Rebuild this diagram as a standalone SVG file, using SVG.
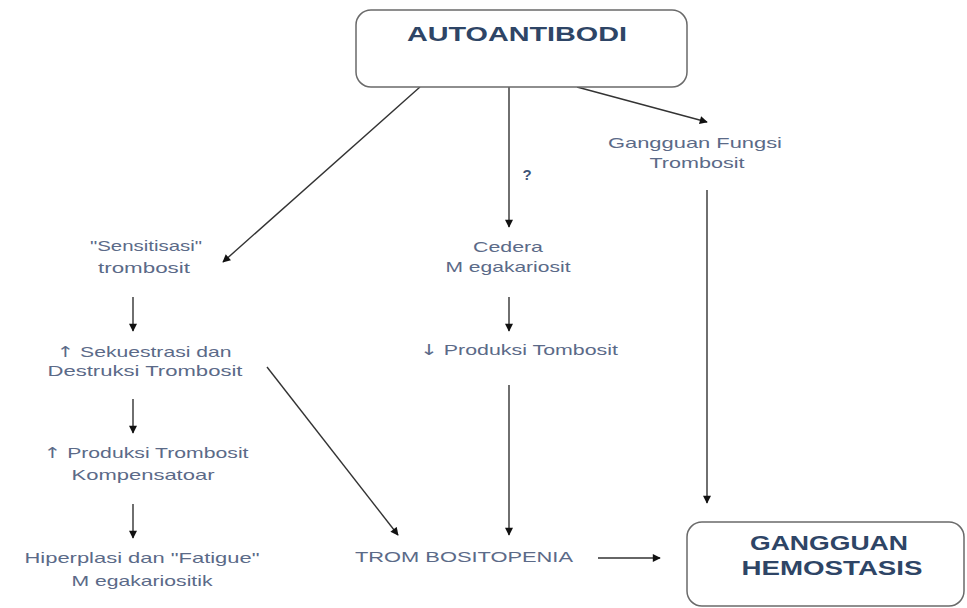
<svg xmlns="http://www.w3.org/2000/svg" width="967" height="608" viewBox="0 0 967 608">
<defs>
<style>
.lbl{font-family:"Liberation Sans",Arial,sans-serif;font-size:15px;fill:#5b6a88;text-anchor:middle;}
.ar{font-family:"DejaVu Sans",sans-serif;fill:#5b6a88;}
.ttl{font-family:"Liberation Sans",Arial,sans-serif;font-size:21px;font-weight:bold;fill:#2e4566;text-anchor:middle;}
.box{fill:#ffffff;stroke:#6a6a6a;stroke-width:1.5;}
.con{stroke:#333333;stroke-width:1.4;fill:none;marker-end:url(#ah);}
</style>
<marker id="ah" viewBox="0 0 10 10" refX="9" refY="5" markerWidth="9" markerHeight="8" markerUnits="userSpaceOnUse" orient="auto">
<path d="M0,0 L10,5 L0,10 z" fill="#111111"/>
</marker>
</defs>
<rect width="967" height="608" fill="#ffffff"/>
<g id="connectors">
<line class="con" x1="420" y1="87" x2="223" y2="262"/>
<line class="con" x1="509" y1="87" x2="509" y2="227"/>
<line class="con" x1="577" y1="87" x2="707" y2="122"/>
<line class="con" x1="707" y1="190" x2="707" y2="503"/>
<line class="con" x1="133" y1="297" x2="133" y2="331"/>
<line class="con" x1="133" y1="399" x2="133" y2="433"/>
<line class="con" x1="133" y1="504" x2="133" y2="538"/>
<line class="con" x1="509" y1="297" x2="509" y2="331"/>
<line class="con" x1="267" y1="367" x2="398" y2="535"/>
<line class="con" x1="509" y1="385" x2="509" y2="535"/>
<line class="con" x1="598" y1="558" x2="660" y2="558"/>
</g>
<g id="q"><text class="lbl" x="527" y="180" style="font-weight:bold;fill:#3f5578">?</text></g>
<g id="autoantibodi">
<rect class="box" x="356" y="10" width="331" height="77" rx="15" ry="15"/>
<text class="ttl" x="517" y="41" textLength="220" lengthAdjust="spacingAndGlyphs">AUTOANTIBODI</text>
</g>
<g id="sensitisasi">
<text class="lbl" x="146" y="251" textLength="112" lengthAdjust="spacingAndGlyphs">"Sensitisasi"</text>
<text class="lbl" x="144" y="273" textLength="92" lengthAdjust="spacingAndGlyphs">trombosit</text>
</g>
<g id="sekuestrasi">
<text class="lbl" x="144" y="357" textLength="175" lengthAdjust="spacingAndGlyphs"><tspan class="ar">↑</tspan> Sekuestrasi dan</text>
<text class="lbl" x="145" y="376" textLength="195" lengthAdjust="spacingAndGlyphs">Destruksi Trombosit</text>
</g>
<g id="produksi-kompensatoar">
<text class="lbl" x="146" y="458" textLength="205" lengthAdjust="spacingAndGlyphs"><tspan class="ar">↑</tspan> Produksi Trombosit</text>
<text class="lbl" x="143" y="480" textLength="143" lengthAdjust="spacingAndGlyphs">Kompensatoar</text>
</g>
<g id="hiperplasi">
<text class="lbl" x="142" y="563" textLength="235" lengthAdjust="spacingAndGlyphs">Hiperplasi dan "Fatigue"</text>
<text class="lbl" x="142" y="586" textLength="141" lengthAdjust="spacingAndGlyphs">M egakariositik</text>
</g>
<g id="cedera">
<text class="lbl" x="508" y="252" textLength="70" lengthAdjust="spacingAndGlyphs">Cedera</text>
<text class="lbl" x="508" y="272" textLength="125" lengthAdjust="spacingAndGlyphs">M egakariosit</text>
</g>
<g id="produksi-tombosit">
<text class="lbl" x="519" y="355" textLength="198" lengthAdjust="spacingAndGlyphs"><tspan class="ar">↓</tspan> Produksi Tombosit</text>
</g>
<g id="gangguan-fungsi">
<text class="lbl" x="695" y="148" textLength="174" lengthAdjust="spacingAndGlyphs">Gangguan Fungsi</text>
<text class="lbl" x="697" y="168" textLength="95" lengthAdjust="spacingAndGlyphs">Trombosit</text>
</g>
<g id="trombositopenia">
<text class="lbl" x="464" y="562" textLength="218" lengthAdjust="spacingAndGlyphs">TROM BOSITOPENIA</text>
</g>
<g id="gangguan-hemostasis">
<rect class="box" x="687" y="522" width="277" height="84" rx="15" ry="15"/>
<text class="ttl" x="829" y="550" textLength="158" lengthAdjust="spacingAndGlyphs">GANGGUAN</text>
<text class="ttl" x="832" y="575" textLength="181" lengthAdjust="spacingAndGlyphs">HEMOSTASIS</text>
</g>
</svg>
